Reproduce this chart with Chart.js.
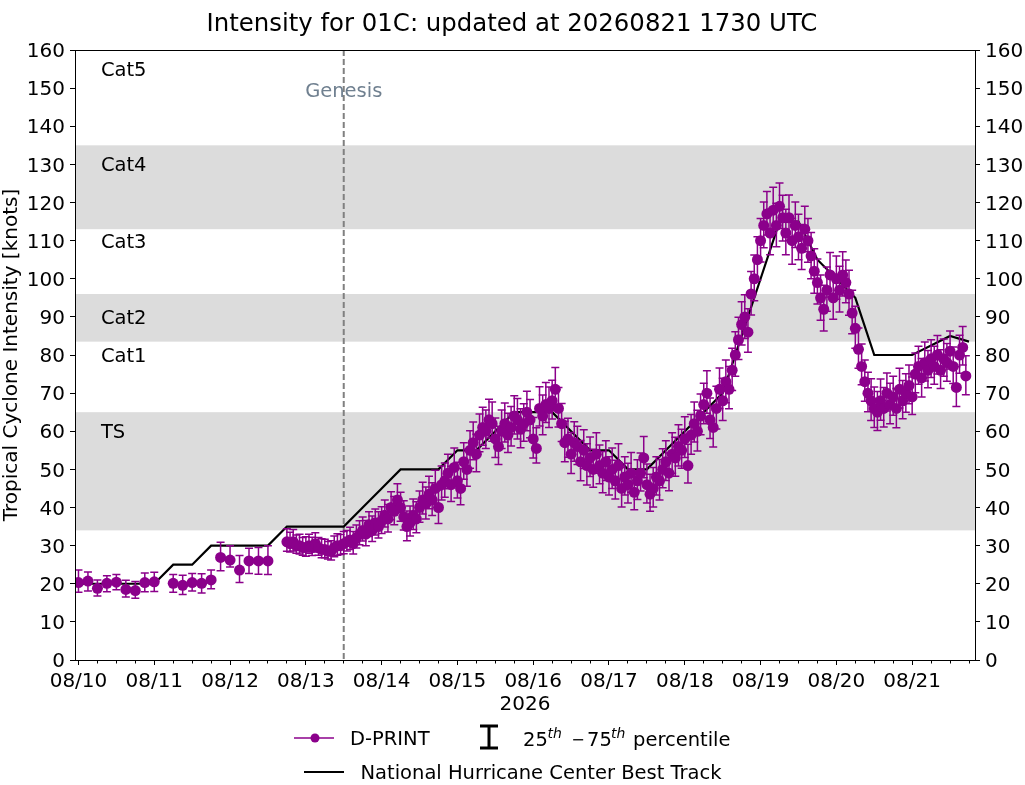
<!DOCTYPE html>
<html><head><meta charset="utf-8">
<script src="https://cdn.jsdelivr.net/npm/chart.js@4.4.1/dist/chart.umd.min.js"></script>
<style>html,body{margin:0;padding:0;background:#fff;}canvas{display:block;}</style>
</head><body>
<canvas id="c" width="1025" height="785"></canvas>
<script>
// ---- data (hours since 2026-08-10 00 UTC) ----
const xTickHours = [0,24,48,72,96,120,144,168,192,216,240,264];
const xTickLabels = ['08/10','08/11','08/12','08/13','08/14','08/15','08/16','08/17','08/18','08/19','08/20','08/21'];

const dprintHours = [0,3,6,9,12,15,18,21,24,30,33,36,39,42,45,48,51,54,57,60,
66,67,68,69,70,71,72,73,74,75,76,77,
78,79,80,81,82,83,84,85,86,87,88,89,
90,91,92,93,94,95,96,97,98,99,100,101,
102,103,104,105,106,107,108,109,110,111,112,113,
114,115,116,117,118,119,120,121,122,123,124,125,
126,127,128,129,130,131,132,133,134,135,136,137,
138,139,140,141,142,143,144,145,146,147,148,149,
150,151,152,153,154,155,156,157,158,159,160,161,
162,163,164,165,166,167,168,169,170,171,172,173,
174,175,176,177,178,179,180,181,182,183,184,185,
186,187,188,189,190,191,192,193,194,195,196,197,
198,199,200,201,202,203,204,205,206,207,208,209,
210,211,212,213,214,215,216,217,218,219,220,221,
222,223,224,225,226,227,228,229,230,231,232,233,
234,235,236,237,238,239,240,241,242,243,244,245,
246,247,248,249,250,251,252,253,254,255,256,257,
258,259,260,261,262,263,264,265,266,267,268,269,
270,271,272,273,274,275,276,277,278,279,280,281];

const dprintKt = [20.3,20.7,18.8,20.1,20.4,18.5,18.2,20.3,20.5,20.1,19.6,20.3,20.1,21,26.9,26.2,23.6,26,26,26,
31,30.5,31,30,30,29.5,29.5,30,29.5,30.5,29.5,29,
29,28.5,28.5,29.5,30,30,30.5,31,31.5,30.5,32,33,
34,33,35.5,34,36,35,36.5,38,37,40,39,42,
40,37.5,35,36,38,37,40,42,41,43.5,42,45,
40,46,47,49,46,50.5,47,45,52,50,55,57,
54,59,61,60,63,62,58,56,60,62,59,61,
64,63,60.5,62,65,63,58,55.5,66,64,67,66,
68,71,66,62,57,58,54,57,56,52,55,51,
53,50,54,51,49,52,48,50,47,51,45,48,
46,49,44,47,49,53,46,43.5,45,48,47,50,
52,49,54,53,56,55,58,51,59,62,60,64,
67,70,63,61,66,71,68,73,71,76,80,84,
88,90,86,96,100,105,110,114,117,112,118,114,
119,116,112,116,110,114,111,108,113,110,106,102,
99,95,92,97,101,95,100,97,101,99,96,91,
87,81.5,77,73,70,68,66,65,68,66,70,67,
69,66,71,68,70,72,69,75,77,74,78,76,
79,77,80,76,79,78,81,77,71.5,80,82,74.5];

// distance (kt) from the median down to the 25th percentile
const dprintLo = [2.5,2.6,2.0,2.2,2.0,2.0,2.0,2.4,2.5,2.3,2.4,2.2,2.5,2.3,3.5,1.8,3.3,3.3,3.5,3.6,
2.5,2.2,2.4,2.0,2.2,2.0,2.3,2.0,2.1,2.2,2.0,2.2,
2.2,2.0,2.3,2.4,2.5,2.3,2.6,2.4,2.5,2.7,2.6,2.8,
2.8,3.0,3.1,2.9,3.2,3.0,3.3,3.1,3.4,3.2,3.5,3.3,
3.6,3.4,3.7,3.5,3.8,3.6,3.9,3.7,4.0,3.8,4.1,3.9,
4.2,4.0,4.3,4.1,4.4,4.2,4.5,4.3,4.6,4.4,4.7,4.5,
4.6,4.4,4.7,4.5,4.8,4.6,4.9,4.7,4.5,4.8,4.6,4.9,
4.7,5.0,4.8,4.6,4.9,4.7,5.0,3.8,4.6,4.9,4.7,5.0,
4.8,5.1,4.9,4.7,5.0,4.8,5.1,4.9,4.7,5.0,4.8,5.1,
4.9,4.7,5.0,4.8,5.1,4.9,4.7,5.0,4.8,5.1,4.9,4.7,
4.8,5.0,4.6,4.9,4.7,5.2,4.8,4.5,4.9,4.7,5.0,4.8,
4.9,4.6,5.0,4.8,5.1,4.7,4.9,4.6,5.0,4.8,5.2,4.9,
5.0,5.3,4.9,5.1,5.4,5.0,5.2,5.5,5.1,5.3,5.6,5.2,
5.4,5.7,5.3,5.5,5.8,5.4,5.6,5.9,5.5,5.7,6.0,5.6,
5.8,6.1,5.7,5.9,6.2,5.8,6.0,5.6,5.9,5.7,6.0,5.8,
5.6,5.9,5.7,5.5,5.8,5.6,5.4,5.7,5.5,5.3,5.6,5.4,
5.2,5.0,4.8,5.1,4.9,5.2,5.0,4.8,5.1,4.9,4.7,5.0,
4.8,5.1,4.9,4.7,5.0,4.8,4.6,4.9,4.7,5.0,4.8,4.6,
4.9,4.7,5.0,4.8,4.6,4.9,4.7,4.5,5.0,4.8,4.6,4.9];

// distance (kt) from the median up to the 75th percentile
const dprintHi = [3.3,2.4,2.2,2.0,2.0,2.4,2.4,2.5,2.5,2.3,2.6,2.4,2.5,2.6,4.0,3.8,3.8,3.3,3.5,4.0,
3.4,3.0,3.2,2.8,3.0,2.6,2.8,3.0,2.7,2.9,2.6,2.8,
2.7,2.6,2.8,3.0,3.1,2.9,3.2,3.0,3.3,3.2,3.4,3.5,
3.5,3.6,3.4,3.8,3.6,3.9,3.7,4.0,3.8,4.1,3.9,4.2,
4.0,4.3,4.1,4.4,4.2,4.5,4.3,4.6,4.4,4.7,4.5,4.8,
4.6,4.9,4.7,5.0,4.8,5.1,4.9,5.2,5.0,5.3,5.1,5.4,
5.2,5.5,5.3,5.6,5.4,5.7,5.5,5.3,5.6,5.4,5.7,5.5,
5.3,5.6,5.4,5.2,5.5,5.3,5.6,5.4,5.7,5.5,5.8,5.6,
5.4,5.7,5.5,5.3,5.6,5.4,5.7,5.5,5.3,5.6,5.4,5.7,
5.5,5.3,5.6,5.4,5.7,5.5,5.3,5.6,5.4,5.7,5.5,5.3,
5.6,5.4,5.2,5.5,5.3,5.6,5.4,5.2,5.5,5.3,5.6,5.4,
5.5,5.3,5.6,5.4,5.7,5.5,5.8,5.6,5.4,5.7,5.5,5.8,
5.6,5.9,5.7,5.5,5.8,5.6,5.9,5.7,6.0,5.8,6.1,5.9,
6.0,5.8,6.1,5.9,6.2,6.0,5.8,6.1,5.9,6.2,6.0,5.8,
6.1,5.9,6.2,6.0,5.8,6.1,5.9,6.2,6.0,5.8,6.1,5.9,
6.2,6.0,6.3,6.1,5.9,6.2,6.0,6.3,6.1,5.9,6.2,6.0,
5.8,5.6,5.9,5.7,5.5,5.8,5.6,5.4,5.7,5.5,5.3,5.6,
5.4,5.2,5.5,5.3,5.1,5.4,5.2,5.5,5.3,5.1,5.4,5.2,
5.0,5.3,5.1,5.4,5.2,5.0,5.3,5.1,5.4,5.2,5.5,5.3];

const bestTrackHours = [0,6,12,18,24,30,36,42,48,54,60,66,72,78,84,90,96,102,108,114,120,126,132,138,144,150,156,162,168,174,180,186,192,198,204,210,216,222,228,234,240,246,252,258,264,276,282];
const bestTrackKt    = [20,20,20,20,20,25,25,30,30,30,30,35,35,35,35,40,45,50,50,50,55,55,60,65,65,65,60,55,55,50,50,55,60,65,70,85,100,115,115,105,100,95,80,80,80,85,83.5];

const bandRanges = [[34,65],[83.5,96],[113,135]];
const categoryNames = ['Cat5','Cat4','Cat3','Cat2','Cat1','TS'];
const categoryLabelKt = [155,130,110,90,80,60];
const genesisHour = 84;

// ---- drawing ----
const PURPLE = '#8B008B';
const FONT = '"DejaVu Sans"';
const TXT_DY = 2; // matplotlib centres text slightly lower than canvas 'middle'

const overlay = {
  id: 'overlay',
  beforeDatasetsDraw(chart) {
    const {ctx, chartArea: a, scales: {x, y}} = chart;
    ctx.save();
    ctx.beginPath(); ctx.rect(a.left, a.top, a.right - a.left, a.bottom - a.top); ctx.clip();
    ctx.fillStyle = '#DCDCDC';
    bandRanges.forEach(([lo, hi]) => {
      const y1 = y.getPixelForValue(hi), y2 = y.getPixelForValue(lo);
      ctx.fillRect(a.left, y1, a.right - a.left, y2 - y1);
    });
    const gx = x.getPixelForValue(genesisHour);
    ctx.strokeStyle = '#808080'; ctx.lineWidth = 2; ctx.setLineDash([6, 3]);
    ctx.beginPath(); ctx.moveTo(gx, a.top); ctx.lineTo(gx, a.bottom); ctx.stroke();
    ctx.setLineDash([]);
    ctx.fillStyle = '#000'; ctx.font = '19.5px ' + FONT; ctx.textAlign = 'left'; ctx.textBaseline = 'middle';
    categoryNames.forEach((t, i) => ctx.fillText(t, x.getPixelForValue(7.1), y.getPixelForValue(categoryLabelKt[i]) + TXT_DY));
    ctx.fillStyle = '#708090'; ctx.textAlign = 'center';
    ctx.fillText('Genesis', gx, y.getPixelForValue(149.5) + TXT_DY);
    ctx.restore();
  },
  beforeDatasetDraw(chart, args) {
    if (args.index !== 0) return;
    const {ctx, chartArea: a, scales: {x, y}} = chart;
    ctx.save();
    ctx.beginPath(); ctx.rect(a.left, a.top, a.right - a.left, a.bottom - a.top); ctx.clip();
    ctx.strokeStyle = PURPLE; ctx.lineWidth = 1.5;
    dprintHours.forEach((h, i) => {
      const px = x.getPixelForValue(h);
      const yt = y.getPixelForValue(dprintKt[i] + dprintHi[i]);
      const yb = y.getPixelForValue(dprintKt[i] - dprintLo[i]);
      ctx.beginPath();
      ctx.moveTo(px, yt); ctx.lineTo(px, yb);
      ctx.moveTo(px - 4, yt); ctx.lineTo(px + 4, yt);
      ctx.moveTo(px - 4, yb); ctx.lineTo(px + 4, yb);
      ctx.stroke();
    });
    ctx.restore();
  },
  afterDraw(chart) {
    const {ctx, chartArea: a, scales: {x}} = chart;
    const al = p => Math.round(p - 0.5) + 0.5;
    ctx.save();
    // full frame
    ctx.strokeStyle = '#000'; ctx.lineWidth = 1;
    ctx.strokeRect(al(a.left), al(a.top), al(a.right) - al(a.left), al(a.bottom) - al(a.top));
    // minor ticks every 6 h
    for (let h = 6; h < x.max; h += 6) {
      if (h % 24 === 0) continue;
      const px = al(x.getPixelForValue(h));
      ctx.beginPath(); ctx.moveTo(px, al(a.bottom)); ctx.lineTo(px, al(a.bottom) + 3); ctx.stroke();
    }
    ctx.fillStyle = '#000';
    // title
    ctx.font = '24.4px ' + FONT; ctx.textAlign = 'center'; ctx.textBaseline = 'middle';
    ctx.fillText('Intensity for 01C: updated at 20260821 1730 UTC', 512, 24.5);
    // axis titles
    ctx.font = '20px ' + FONT;
    ctx.fillText('2026', (a.left + a.right) / 2, 704.5);
    ctx.save(); ctx.translate(12, (a.top + a.bottom) / 2); ctx.rotate(-Math.PI / 2);
    ctx.fillText('Tropical Cyclone Intensity [knots]', 0, 0); ctx.restore();
    // legend
    ctx.textAlign = 'left';
    const r1 = 738, r2 = 772;
    ctx.strokeStyle = PURPLE; ctx.lineWidth = 1.5;
    ctx.beginPath(); ctx.moveTo(294, r1); ctx.lineTo(334, r1); ctx.stroke();
    ctx.fillStyle = PURPLE; ctx.beginPath(); ctx.arc(315, r1, 4.5, 0, Math.PI * 2); ctx.fill();
    ctx.fillStyle = '#000'; ctx.font = '19.5px ' + FONT;
    ctx.fillText('D-PRINT', 350, r1 + 1.5);
    ctx.strokeStyle = '#000'; ctx.lineWidth = 3;
    ctx.beginPath();
    ctx.moveTo(489, 726); ctx.lineTo(489, 748);
    ctx.moveTo(480, 726); ctx.lineTo(498, 726);
    ctx.moveTo(480, 748); ctx.lineTo(498, 748);
    ctx.stroke();
    ctx.textBaseline = 'alphabetic';
    const bl = r1 + 8;
    ctx.font = '19.5px ' + FONT;
    ctx.fillText('25', 523, bl);
    ctx.fillText('75', 587, bl);
    ctx.fillText('percentile', 633, bl);
    ctx.textAlign = 'center'; ctx.font = '16px ' + FONT;
    ctx.fillText('\u2212', 578, bl - 1);
    ctx.textAlign = 'left';
    ctx.font = 'italic 14px ' + FONT;
    ctx.fillText('th', 547.5, bl - 8);
    ctx.fillText('th', 611, bl - 8);
    ctx.textBaseline = 'middle';
    ctx.lineWidth = 2.2;
    ctx.beginPath(); ctx.moveTo(304, r2); ctx.lineTo(344, r2); ctx.stroke();
    ctx.font = '19.5px ' + FONT;
    ctx.fillText('National Hurricane Center Best Track', 360.5, r2 + 1.5);
    ctx.restore();
  }
};

const axisCommon = {
  grid: {display: true, drawOnChartArea: false, drawTicks: true, tickLength: 5, tickColor: '#000', tickWidth: 1},
  border: {display: true, color: '#000', width: 1}
};

new Chart(document.getElementById('c'), {
  type: 'line',
  data: {
    datasets: [
      {
        label: 'D-PRINT',
        data: dprintHours.map((h, i) => ({x: h, y: dprintKt[i]})),
        showLine: false,
        pointRadius: 5.5,
        pointHoverRadius: 5.5,
        pointBackgroundColor: PURPLE,
        pointBorderColor: PURPLE,
        pointBorderWidth: 0,
        yAxisID: 'y',
        order: 0
      },
      {
        label: 'National Hurricane Center Best Track',
        data: bestTrackHours.map((h, i) => ({x: h, y: bestTrackKt[i]})),
        borderColor: '#000',
        borderWidth: 2.2,
        pointRadius: 0,
        tension: 0,
        fill: false,
        yAxisID: 'y',
        order: 1
      }
    ]
  },
  options: {
    responsive: false,
    animation: false,
    devicePixelRatio: 1,
    layout: {padding: {top: 50, left: 0, right: 0, bottom: 0}},
    plugins: {legend: {display: false}, title: {display: false}, tooltip: {enabled: false}},
    scales: {
      x: {
        type: 'linear', min: -1.1, max: 283.9,
        afterBuildTicks: s => { s.ticks = xTickHours.map(v => ({value: v})); },
        ticks: {
          autoSkip: false, maxRotation: 0, padding: 5, color: '#000',
          font: {family: 'DejaVu Sans', size: 20},
          callback: (v, i) => xTickLabels[i]
        },
        ...axisCommon,
        afterFit: s => { s.height = 125; }
      },
      y: {
        position: 'left', min: 0, max: 160,
        ticks: {stepSize: 10, autoSkip: false, padding: 5, labelOffset: 2, color: '#000', font: {family: 'DejaVu Sans', size: 20}},
        ...axisCommon,
        afterFit: s => { s.width = 75; }
      },
      y2: {
        position: 'right', min: 0, max: 160,
        ticks: {stepSize: 10, autoSkip: false, padding: 5, labelOffset: 2, color: '#000', font: {family: 'DejaVu Sans', size: 20}},
        ...axisCommon,
        afterFit: s => { s.width = 50; }
      }
    }
  },
  plugins: [overlay]
});
</script>
</body></html>
